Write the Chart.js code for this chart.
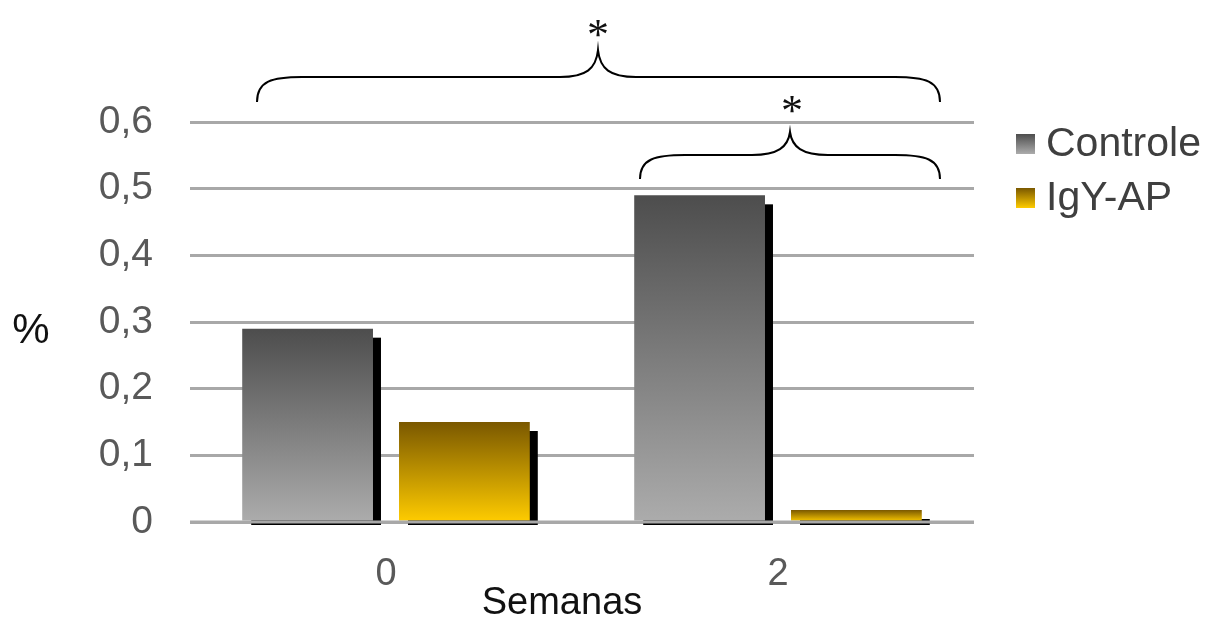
<!DOCTYPE html>
<html>
<head>
<meta charset="utf-8">
<script src="https://cdn.jsdelivr.net/npm/chart.js@4.4.0/dist/chart.umd.min.js"></script>
<style>
  html, body { margin: 0; padding: 0; background: #fff; }
  #wrap { width: 1209px; height: 621px; }
</style>
</head>
<body>
<div id="wrap"><canvas id="chart"></canvas></div>
<script>
const categories = ['0', '2'];
const controleValues = [0.29, 0.49];
const igyValues = [0.15, 0.018];
const yTickLabels = ['0', '0,1', '0,2', '0,3', '0,4', '0,5', '0,6'];
const seriesNames = ['Controle', 'IgY-AP'];

const FONT = '"Liberation Sans", Arial, sans-serif';
const GRID = '#a8a8a8';

// gradient colours for each series (top, bottom)
const gradStops = [
    ['#4d4d4d', '#acacac'],
    ['#7a5800', '#ffcc00']
];

function barFill(c, idx) {
    const chart = c.chart;
    if (!chart.chartArea || c.type !== 'data') return gradStops[idx][1];
    const y = chart.scales.y;
    const top = y.getPixelForValue(c.raw);
    const base = y.getPixelForValue(0);
    const g = chart.ctx.createLinearGradient(0, top, 0, base);
    g.addColorStop(0, gradStops[idx][0]);
    g.addColorStop(1, gradStops[idx][1]);
    return g;
}

// black drop shadow behind each bar, zero line redrawn on top
const barShadow = {
    id: 'barShadow',
    beforeDatasetsDraw(chart) {
        const ctx = chart.ctx;
        ctx.save();
        ctx.fillStyle = '#000';
        chart.data.datasets.forEach((ds, i) => {
            chart.getDatasetMeta(i).data.forEach(bar => {
                const left = bar.x - bar.width / 2;
                const right = bar.x + bar.width / 2;
                ctx.fillRect(left + 9, bar.y + 9, right - left - 1, bar.base + 4.5 - (bar.y + 9));
            });
        });
        ctx.restore();
    },
    afterDatasetsDraw(chart) {
        const ctx = chart.ctx;
        const a = chart.chartArea;
        const y0 = chart.scales.y.getPixelForValue(0);
        ctx.save();
        ctx.strokeStyle = GRID;
        ctx.lineWidth = 3;
        ctx.beginPath();
        ctx.moveTo(a.left, y0);
        ctx.lineTo(a.right, y0);
        ctx.stroke();
        ctx.restore();
    }
};

function brace(ctx, x1, x2, xm, yEnd, yMid, yTip) {
    const r = 45;
    ctx.beginPath();
    ctx.moveTo(x1, yEnd);
    ctx.bezierCurveTo(x1, yMid + 4, x1 + 15, yMid, x1 + r, yMid);
    ctx.lineTo(xm - 38, yMid);
    ctx.bezierCurveTo(xm - 12, yMid, xm - 2, yMid - 8, xm, yTip);
    ctx.bezierCurveTo(xm + 2, yMid - 8, xm + 12, yMid, xm + 38, yMid);
    ctx.lineTo(x2 - r, yMid);
    ctx.bezierCurveTo(x2 - 15, yMid, x2, yMid + 4, x2, yEnd);
    ctx.stroke();
}

// braces, asterisks, legend, axis titles
const extras = {
    id: 'extras',
    afterDraw(chart) {
        const ctx = chart.ctx;
        ctx.save();
        ctx.strokeStyle = '#000';
        ctx.lineWidth = 2;
        brace(ctx, 257, 940, 598, 102, 77, 50);
        brace(ctx, 640, 940, 790, 179, 155, 132);

        ctx.fillStyle = '#111';
        ctx.textAlign = 'center';
        ctx.textBaseline = 'alphabetic';
        ctx.font = '44px "Liberation Serif", serif';
        ctx.fillText('*', 598, 49);
        ctx.fillText('*', 792, 125);

        ctx.textBaseline = 'middle';
        ctx.font = '42px ' + FONT;
        ctx.fillText('%', 31, 331);
        ctx.font = '38px ' + FONT;
        ctx.fillText('Semanas', 562, 604);

        // legend
        ctx.textAlign = 'left';
        ctx.font = '41px ' + FONT;
        const legY = [144, 198];
        seriesNames.forEach((name, i) => {
            const g = ctx.createLinearGradient(0, legY[i] - 10, 0, legY[i] + 10);
            g.addColorStop(0, gradStops[i][0]);
            g.addColorStop(1, gradStops[i][1]);
            ctx.fillStyle = g;
            ctx.fillRect(1016, legY[i] - 10, 19, 20);
            ctx.fillStyle = '#3f3f3f';
            ctx.fillText(name, 1046, legY[i] + 1);
        });
        ctx.restore();
    }
};

new Chart(document.getElementById('chart'), {
    type: 'bar',
    data: {
        labels: categories,
        datasets: [{
            label: seriesNames[0],
            data: controleValues,
            backgroundColor: c => barFill(c, 0),
            borderWidth: 0
        }, {
            label: seriesNames[1],
            data: igyValues,
            backgroundColor: c => barFill(c, 1),
            borderWidth: 0
        }]
    },
    options: {
        responsive: true,
        maintainAspectRatio: false,
        animation: false,
        categoryPercentage: 0.8,
        barPercentage: 0.834,
        layout: { padding: { top: 122, right: 235, left: 0, bottom: 0 } },
        plugins: {
            legend: { display: false },
            tooltip: { enabled: false }
        },
        scales: {
            x: {
                grid: { display: false },
                border: { display: false },
                ticks: { color: '#595959', font: { size: 38, family: FONT }, padding: 22 },
                afterFit: s => { s.height = 99; }
            },
            y: {
                min: 0,
                max: 0.6,
                grid: { color: GRID, lineWidth: 3, drawTicks: false },
                border: { display: false },
                ticks: {
                    stepSize: 0.1,
                    color: '#595959',
                    font: { size: 39, family: FONT },
                    padding: 37,
                    callback: (v, i) => yTickLabels[i]
                },
                afterFit: s => { s.width = 190; }
            }
        }
    },
    plugins: [barShadow, extras]
});
</script>
</body>
</html>
